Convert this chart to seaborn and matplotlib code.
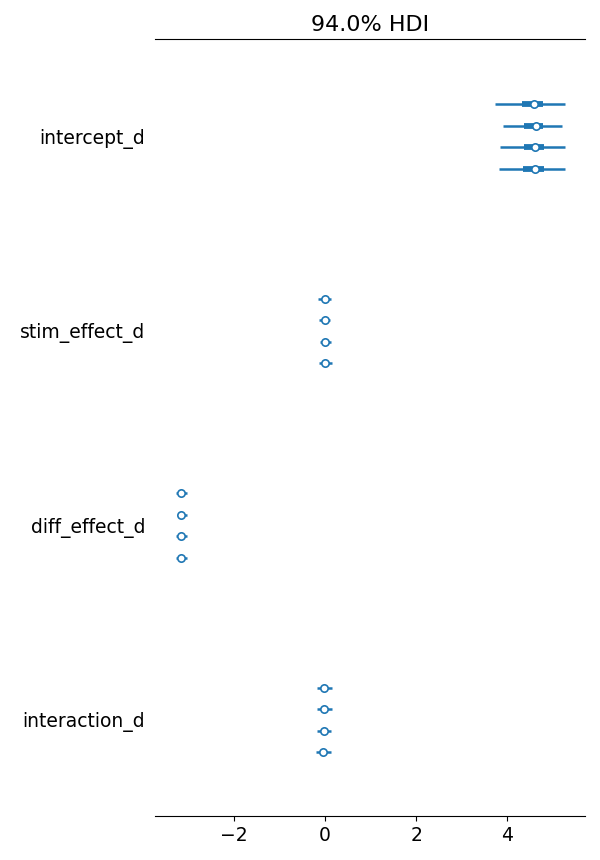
import matplotlib
matplotlib.use("Agg")
import matplotlib.pyplot as plt
import seaborn as sns
import pandas as pd
import numpy as np

# values (4 chains per variable)
variables = ["intercept_d", "stim_effect_d", "diff_effect_d", "interaction_d"]
median = [
    [4.59, 4.64, 4.62, 4.62],
    [0.00, 0.00, 0.00, 0.00],
    [-3.16, -3.16, -3.16, -3.16],
    [-0.02, -0.02, -0.02, -0.04],
]
hdi_low = [
    [3.74, 3.91, 3.85, 3.82],
    [-0.15, -0.13, -0.11, -0.13],
    [-3.27, -3.23, -3.27, -3.27],
    [-0.18, -0.18, -0.18, -0.20],
]
hdi_high = [
    [5.27, 5.21, 5.27, 5.27],
    [0.13, 0.11, 0.13, 0.15],
    [-3.03, -3.03, -3.03, -3.03],
    [0.15, 0.15, 0.13, 0.13],
]
iqr_low = [
    [4.33, 4.37, 4.37, 4.35],
    [-0.04, -0.04, -0.04, -0.04],
    [-3.20, -3.20, -3.20, -3.20],
    [-0.06, -0.06, -0.06, -0.07],
]
iqr_high = [
    [4.79, 4.79, 4.81, 4.81],
    [0.04, 0.04, 0.04, 0.04],
    [-3.12, -3.12, -3.12, -3.12],
    [0.02, 0.02, 0.02, 0.01],
]
chains = [0, 1, 2, 3]

rows = []
for g, var in enumerate(variables):
    for c in chains:
        rows.append({
            "var": var, "chain": c,
            "y": g * 194.5 + c * 21.5,
            "median": median[g][c],
            "hdi_low": hdi_low[g][c], "hdi_high": hdi_high[g][c],
            "iqr_low": iqr_low[g][c], "iqr_high": iqr_high[g][c],
        })
df = pd.DataFrame(rows)

sns.set_style("ticks", {"text.color": "black", "xtick.color": "black",
                        "ytick.color": "black", "axes.edgecolor": "black"})
plt.rcParams["font.family"] = ["DejaVu Sans"]
color = "#1f77b4"

fig = plt.figure(figsize=(6, 8.6), dpi=100)
ax = fig.add_axes([155 / 600, 1 - 816 / 860, 430 / 600, 777 / 860])

ax.hlines(df["y"], df["hdi_low"], df["hdi_high"], color=color, lw=1.8)
ax.hlines(df["y"], df["iqr_low"], df["iqr_high"], color=color, lw=4.2)
sns.scatterplot(data=df, x="median", y="y", ax=ax, color="white",
                edgecolor=color, linewidth=1.2, s=28, zorder=3, legend=False)

centers = df.groupby("var", sort=False)["y"].mean()
ax.set_yticks(centers.values)
ax.set_yticklabels(centers.index, fontsize=13.5)
ax.tick_params(axis="y", length=0, pad=7)
ax.tick_params(axis="x", labelsize=13.5, length=3.5, width=0.8)
ax.set_xticks([-2, 0, 2, 4])
ax.set_xlim(-3.74, 5.71)
ax.set_ylim(712, -65)
ax.set_xlabel("")
ax.set_ylabel("")
ax.set_title("94.0% HDI", fontsize=16)
for s in ["left", "right"]:
    ax.spines[s].set_visible(False)
ax.spines["top"].set_visible(True)
ax.spines["top"].set_linewidth(0.8)
ax.spines["bottom"].set_linewidth(0.8)

fig.savefig("out.png", dpi=100)
